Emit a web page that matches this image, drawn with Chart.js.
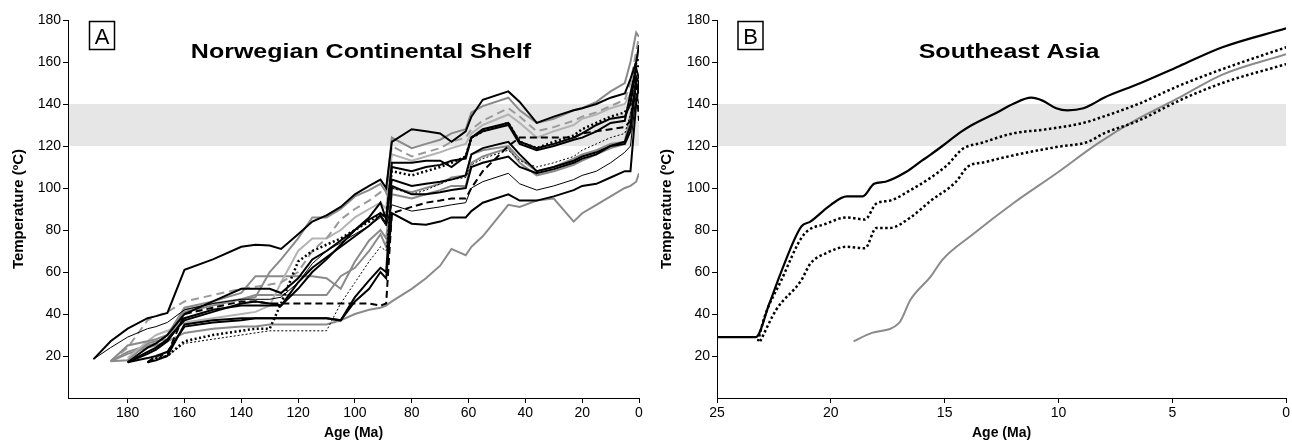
<!DOCTYPE html>
<html>
<head>
<meta charset="utf-8">
<script src="https://cdn.jsdelivr.net/npm/chart.js@4.4.1/dist/chart.umd.min.js"></script>
<style>
  html, body { margin: 0; padding: 0; background: #fff; }
  #wrap { display: flex; width: 1292px; height: 442px; }
  canvas { display: block; }
</style>
</head>
<body>
<div id="wrap">
  <canvas id="chartA" width="646" height="442"></canvas>
  <canvas id="chartB" width="646" height="442"></canvas>
</div>
<script>
// Oil window band (degC)
const bandLo = 120, bandHi = 140;
const yTicks = [20, 40, 60, 80, 100, 120, 140, 160, 180];
const xTicksA = [180, 160, 140, 120, 100, 80, 60, 40, 20, 0];
const xTicksB = [25, 20, 15, 10, 5, 0];

// Panel A: shared age grid (Ma) for all wells
const ageA = [192, 186, 180, 173, 170, 166, 160, 150, 140, 135, 130, 126, 120, 115, 110, 105, 100, 95, 91, 89,
              87, 80, 75, 70, 66, 61, 59, 55, 46, 42, 36, 30, 23, 20, 15, 10, 5, 3, 1, 0];

// Panel A temperatures (degC) per well
const blkTop = [18.5, 27, 33, 38, 39, 40.5, 61, 66, 72, 73, 72.6, 71, 78, 84, 87, 91, 97, 101, 104, 100,
                122, 128, 127, 126, 122, 127, 134, 142, 146, 141, 131, 134, 137, 138, 140, 143, 145, 152, 160, 168];
const blkA = [null, null, 17, 22, 24, 28, 37, 41, 45, 46, 45, 44, 55, 62, 67, 72, 77, 82, 87, 83,
              112, 112, 113, 113, 110, 115, 124, 128, 131, 122, 119, 121, 124, 126, 130, 133, 134, 140, 158, 158];
const blkB = [null, null, 17, 21, 23, 27, 38, 42, 44, 44, 44, 44, 52, 60, 66, 73, 80, 86, 93, 85,
              110, 108, 110, 111, 113, 114, 124, 127, 130, 121, 118, 120, 123, 124, 127, 131, 132, 145, 157, 152];
const blkC = [null, null, 17, 19, 20, 22, 34, 36, 37, 38, 38, 38, 38, 38, 38, 37, 48, 56, 62, 60,
              101, 97, 97, 98, 99, 100, 110, 112, 115, 110, 107, 109, 112, 114, 116, 120, 122, 130, 150, 145];
const blkD = [null, null, 17, 24, 26, 30, 40, 46, 52, 52, 52, 50, 57, 66, 70, 75, 80, 85, 88, 86,
              104, 101, 102, 103, 104, 106, 116, 119, 122, 116, 108, 110, 113, 115, 117, 120, 121, 127, 153, 150];
const blkLow = [null, null, null, 17, 18, 20, 35, 37, 38, 38, 38, 38, 38, 38, 38, 37, 46, 52, 60, 57,
                88, 83, 82.5, 84, 86, 86, 89, 93, 97, 94, 94, 96, 99, 101, 102, 105, 108, 108, 140, 150];
const blkThin = [18.5, 24, 29, 33, 34, 36, 42, 45, 47, 47, 47, 48, 55, 64, 70, 74, 78, 82, 86, 82,
                 92, 89, 90, 91, 92, 93, 100, 103, 107, 102, 99, 101, 104, 106, 108, 112, 117, 120, 145, 140];
const blkDot = [null, null, null, 17, 19, 20, 27, 30, 32, 33, 33, 45, 65, 70, 73, 76, 80, 84, 88, 86,
                108, 106, 108, 110, 112, 115, 124, 127, 131, 122, 119, 122, 125, 128, 131, 134, 136, 140, 160, 162];
const blkDotThin = [null, null, null, 17, 19, 20, 26, 28, 30, 31, 32, 32, 32, 32, 32, 45, 55, 65, 72, 70,
                    100, 97, 99, 102, 104, 105, 111, 114, 118, 113, 110, 112, 115, 118, 121, 124, 126, 135, 150, 147];
const blkDash = [null, null, null, 17, 20, 21, 40, 43, 46, 46, 45, 45, 45, 45, 45, 45, 45, 45, 44, 45,
                 88, 91, 93, 94, 95, 95, 100, 108, 120, 124, 124, 124, 124, 126, 127, 128, 129, 132, 150, 132];
const grayTop = [null, 17.5, 25, 27, 28, 30, 42, 45, 47, 48, 60, 66, 76, 86, 86, 90, 96, 99, 102, 98,
                 124, 119, 121, 123, 126, 128, 136, 139, 143, 137, 131, 133, 137, 138, 141, 146, 150, 160, 174, 172];
const gray58 = [null, 17.5, 22, 25, 26, 30, 43, 46, 50, 58, 58, 58, 58, 58, 57, 52, 65, 75, 80, 76,
                100, 98, 100, 102, 105, 106, 116, 118, 120, 114, 108, 110, 114, 116, 118, 121, 122, 135, 150, 148];
const gray49 = [null, 17.5, 18, 26, 27, 28, 41, 44, 47, 49, 49, 49, 49, 49, 49, 58, 62, 70, 78, 72,
                97, 95, 97, 99, 101, 101, 112, 115, 119, 112, 106, 108, 111, 113, 116, 119, 121, 128, 140, 138];
const grayLow = [null, 17.5, 21, 24, 25, 27, 31, 33, 34, 34, 35, 35, 35, 35, 35, 37, 40, 42, 43, 44,
                 46, 52, 57, 63, 71, 68, 72, 77, 92, 91, 94, 95, 84, 88, 92, 96, 100, 101, 103, 107];
const grayDash = [null, 17.5, 24, 37, 39, 41, 46, 49, 52, 53, 54, 55, 60, 70, 76, 85, 90, 94, 98, 97,
                  120, 115, 117, 119, 122, 124, 128, 132, 138, 134, 127, 129, 132, 134, 136, 139, 142, 150, 165, 172];
const lightGray = [null, null, 19, 27, 30, 32, 36, 38, 40, 41, 44, 55, 70, 76, 76, 80, 86, 90, 93, 90,
                   116, 113, 115, 117, 119, 121, 126, 130, 135, 131, 124, 127, 130, 133, 135, 138, 140, 145, 160, 165];

// Panel B: Southeast Asia
const ageB1 = [25, 23.3, 22.7, 22.2, 21.3, 20.9, 20, 19.3, 18.6, 18.1, 17.6, 16.7, 16, 15.6, 15.1, 14.3, 13.8,
               12.7, 12, 11.2, 10.7, 10.1, 9.6, 8.9, 8.5, 8, 6.5, 4.7, 2.8, 0];
const tempB1 = [29, 29, 45, 59.5, 81.6, 84, 92, 96, 96, 102, 103, 107.6, 113, 116, 120, 126.6, 130,
                136, 140, 143, 141.6, 138, 137, 138, 140, 143, 149.5, 158, 167, 176];
const ageB2 = [23.2, 22.9, 22.2, 21.2, 20.2, 19.3, 18.5, 18, 17.4, 16.5, 15.6, 14.9, 14.2, 13.4, 12, 10.5,
               8.9, 8.3, 6.5, 4.7, 2.8, 0];
const tempB2 = [27, 39, 55.5, 77.6, 83, 86, 85, 92.6, 94, 99, 105, 110.8, 118.7, 121.4, 126, 128,
                131, 133, 140, 148.7, 156.6, 167];
const ageB3 = [23.1, 22.4, 21.3, 20.9, 20.2, 19.3, 18.5, 18, 17.4, 16.5, 15.6, 14.5, 14, 13.2, 12, 10.1,
               8.7, 8, 6.5, 4.7, 2.8, 0];
const tempB3 = [27, 42, 56, 64, 69, 72, 71.3, 81, 81, 86, 94, 103, 110, 112.4, 115.5, 119.5,
                122, 126, 132, 141.6, 150, 159];
const ageB4 = [19, 18.2, 17, 16.5, 15.6, 15.1, 13.8, 12, 10.1, 8.3, 6.5, 4.7, 2.8, 0];
const tempB4 = [27, 31, 35.8, 46.8, 58, 65.8, 77.6, 92.6, 106.9, 121, 133, 143, 154, 163.7];

Chart.defaults.font.family = '"Liberation Sans", Arial, sans-serif';
Chart.defaults.color = '#000';

const BLACK = '#000000', GRAY = '#8a8a8a', LGRAY = '#b4b4b4', DGRAY = '#9a9a9a';

function pts(ages, temps) {
  return ages.map((a, i) => ({ x: a, y: temps[i] }));
}

function line(ages, temps, color, width, dash) {
  return {
    data: pts(ages, temps),
    borderColor: color,
    borderWidth: width,
    borderDash: dash || [],
    pointRadius: 0,
    fill: false,
    tension: 0
  };
}

const decorations = {
  id: 'decorations',
  beforeDatasetsDraw(chart, args, o) {
    const { ctx, chartArea: a, scales: { y } } = chart;
    const top = y.getPixelForValue(bandHi), bot = y.getPixelForValue(bandLo);
    ctx.save();
    ctx.fillStyle = '#e6e6e6';
    ctx.fillRect(a.left + 1, top, a.right - a.left - 1, bot - top);
    ctx.restore();
  },
  afterDraw(chart, args, o) {
    const ctx = chart.ctx;
    ctx.save();
    ctx.fillStyle = '#000';
    ctx.font = 'bold 20px "Liberation Sans", Arial, sans-serif';
    ctx.textAlign = 'center';
    ctx.textBaseline = 'alphabetic';
    ctx.translate(o.titleX, 58);
    ctx.scale(1.25, 1);
    ctx.fillText(o.title, 0, 0);
    ctx.restore();

    ctx.save();
    ctx.strokeStyle = '#000';
    ctx.lineWidth = 1.5;
    ctx.strokeRect(o.boxX, 21.5, 25, 28);
    ctx.fillStyle = '#000';
    ctx.font = '22px "Liberation Sans Narrow", "Liberation Sans", sans-serif';
    ctx.textAlign = 'center';
    ctx.textBaseline = 'alphabetic';
    ctx.fillText(o.letter, o.boxX + 12.5, 43.5);
    ctx.restore();
  }
};

function panelOptions(cfg) {
  return {
    responsive: false,
    animation: false,
    devicePixelRatio: 1,
    layout: { padding: { top: 20, right: cfg.padRight, left: 0, bottom: 0 } },
    plugins: {
      legend: { display: false },
      tooltip: { enabled: false },
      decorations: { title: cfg.title, titleX: cfg.titleX, letter: cfg.letter, boxX: cfg.boxX }
    },
    scales: {
      x: {
        type: 'linear',
        reverse: true,
        min: 0,
        max: cfg.xMax,
        afterBuildTicks: s => { s.ticks = cfg.xTicks.map(v => ({ value: v })); },
        afterFit: s => { s.height = 44; },
        grid: { drawOnChartArea: false, drawTicks: true, tickLength: 5, color: '#000' },
        border: { display: true, color: '#000', width: 1 },
        ticks: { color: '#000', font: { size: 14 }, padding: 2, maxRotation: 0, autoSkip: false },
        title: { display: true, text: 'Age (Ma)', color: '#000', font: { size: 14, weight: 'bold' }, padding: 0 }
      },
      y: {
        type: 'linear',
        min: 0,
        max: 180,
        afterBuildTicks: s => { s.ticks = yTicks.map(v => ({ value: v })); },
        afterFit: s => { s.width = cfg.yWidth; },
        grid: { drawOnChartArea: false, drawTicks: true, tickLength: 5, color: '#000' },
        border: { display: true, color: '#000', width: 1 },
        ticks: { color: '#000', font: { size: 14 }, padding: 2 },
        title: { display: true, text: 'Temperature (ºC)', color: '#000', font: { size: 15, weight: 'bold' },
                 padding: { top: cfg.yTitlePad, bottom: 0 } }
      }
    }
  };
}

new Chart(document.getElementById('chartA'), {
  type: 'line',
  data: {
    datasets: [
      line(ageA, blkTop, BLACK, 2),
      line(ageA, blkDot, BLACK, 2.5, [2, 2.5]),
      line(ageA, blkA, BLACK, 2),
      line(ageA, blkB, BLACK, 2),
      line(ageA, blkDash, BLACK, 2, [7, 4]),
      line(ageA, blkC, BLACK, 2),
      line(ageA, blkD, BLACK, 2),
      line(ageA, blkLow, BLACK, 2),
      line(ageA, blkThin, BLACK, 1),
      line(ageA, blkDotThin, BLACK, 1, [2, 2]),
      line(ageA, grayTop, GRAY, 2),
      line(ageA, grayDash, DGRAY, 2, [8, 5]),
      line(ageA, lightGray, LGRAY, 2),
      line(ageA, gray58, GRAY, 2),
      line(ageA, gray49, GRAY, 2),
      line(ageA, grayLow, GRAY, 2)
    ]
  },
  options: panelOptions({
    xMax: 201, xTicks: xTicksA, yWidth: 68, padRight: 7, yTitlePad: 10,
    title: 'Norwegian Continental Shelf', titleX: 361, letter: 'A', boxX: 89.5
  }),
  plugins: [decorations]
});

const smoothB = ds => Object.assign(ds, { cubicInterpolationMode: 'monotone' });

new Chart(document.getElementById('chartB'), {
  type: 'line',
  data: {
    datasets: [
      smoothB(line(ageB1, tempB1, BLACK, 2.2)),
      smoothB(line(ageB2, tempB2, BLACK, 2.5, [2.5, 2.5])),
      smoothB(line(ageB3, tempB3, BLACK, 2.5, [2.5, 2.5])),
      smoothB(line(ageB4, tempB4, GRAY, 2))
    ]
  },
  options: panelOptions({
    xMax: 25, xTicks: xTicksB, yWidth: 71, padRight: 5, yTitlePad: 11.5,
    title: 'Southeast Asia', titleX: 363, letter: 'B', boxX: 92
  }),
  plugins: [decorations]
});
</script>
</body>
</html>
